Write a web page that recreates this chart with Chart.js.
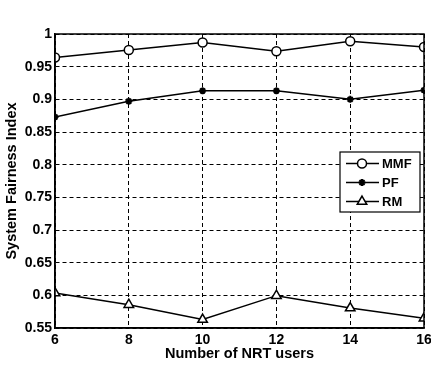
<!DOCTYPE html>
<html>
<head>
<meta charset="utf-8">
<script src="https://cdn.jsdelivr.net/npm/chart.js@4/dist/chart.umd.min.js"></script>
<style>
  html, body { margin: 0; padding: 0; background: #fff; }
  #wrap { width: 431px; height: 367px; }
</style>
</head>
<body>
<div id="wrap"><canvas id="fairChart" width="431" height="367"></canvas></div>
<script>
var users = [6, 8, 10, 12, 14, 16];
var mmf = [0.964, 0.9755, 0.987, 0.9735, 0.989, 0.980];
var pf = [0.873, 0.897, 0.913, 0.913, 0.900, 0.914];
var rm = [0.6035, 0.5857, 0.563, 0.5995, 0.5806, 0.565];
var yTicks = [0.55, 0.6, 0.65, 0.7, 0.75, 0.8, 0.85, 0.9, 0.95, 1];

function pts(vals) {
    return users.map(function (u, i) { return { x: u, y: vals[i] }; });
}

var fontFamily = '"Liberation Sans", Arial, Helvetica, sans-serif';

// box around the plot + legend drawn inside the plot area
var boxLegend = {
    id: 'boxLegend',
    afterDraw: function (chart) {
        var ctx = chart.ctx;
        var a = chart.chartArea;
        ctx.save();
        ctx.strokeStyle = '#000';
        ctx.lineWidth = 1.5;
        ctx.setLineDash([]);
        ctx.strokeRect(a.left, a.top, a.right - a.left, a.bottom - a.top);

        var w = 80, h = 60;
        var x0 = a.right - 4 - w;
        var y0 = (a.top + a.bottom) / 2 - h / 2 + 1;
        ctx.fillStyle = '#fff';
        ctx.fillRect(x0, y0, w, h);
        ctx.lineWidth = 1.2;
        ctx.strokeRect(x0, y0, w, h);

        ctx.font = 'bold 13px ' + fontFamily;
        ctx.textBaseline = 'middle';
        chart.data.datasets.forEach(function (ds, i) {
            var cy = y0 + 11.5 + i * 19;
            ctx.strokeStyle = '#000';
            ctx.lineWidth = 1.5;
            ctx.beginPath();
            ctx.moveTo(x0 + 6, cy);
            ctx.lineTo(x0 + 39, cy);
            ctx.stroke();
            ctx.fillStyle = ds.pointBackgroundColor;
            ctx.strokeStyle = ds.pointBorderColor;
            ctx.lineWidth = ds.pointBorderWidth;
            Chart.helpers.drawPoint(ctx, {
                pointStyle: ds.pointStyle,
                radius: ds.pointRadius,
                borderWidth: ds.pointBorderWidth
            }, x0 + 22, cy);
            ctx.fillStyle = '#000';
            ctx.fillText(ds.label, x0 + 42, cy + 1);
        });
        ctx.restore();
    }
};

var ctx = document.getElementById('fairChart').getContext('2d');
var fairChart = new Chart(ctx, {
    type: 'line',
    data: {
        datasets: [{
            label: 'MMF',
            data: pts(mmf),
            borderColor: '#000',
            borderWidth: 1.5,
            pointStyle: 'circle',
            pointRadius: 4.5,
            pointBorderWidth: 1.5,
            pointBackgroundColor: '#fff',
            pointBorderColor: '#000'
        }, {
            label: 'PF',
            data: pts(pf),
            borderColor: '#000',
            borderWidth: 1.5,
            pointStyle: 'star',
            pointRadius: 3.5,
            pointBorderWidth: 2,
            pointBackgroundColor: '#000',
            pointBorderColor: '#000'
        }, {
            label: 'RM',
            data: pts(rm),
            borderColor: '#000',
            borderWidth: 1.5,
            pointStyle: 'triangle',
            pointRadius: 5.5,
            pointBorderWidth: 1.5,
            pointBackgroundColor: '#fff',
            pointBorderColor: '#000'
        }]
    },
    options: {
        responsive: false,
        animation: false,
        events: [],
        layout: { padding: { top: 34, right: 5, left: 0, bottom: 0 } },
        plugins: {
            legend: { display: false },
            tooltip: { enabled: false }
        },
        scales: {
            x: {
                type: 'linear',
                min: 6,
                max: 16,
                afterFit: function (s) { s.height = 39; s.paddingLeft = 0; s.paddingRight = 0; },
                afterBuildTicks: function (s) {
                    s.ticks = users.map(function (u) { return { value: u }; });
                },
                ticks: {
                    color: '#000',
                    padding: 4,
                    maxRotation: 0,
                    font: { family: fontFamily, size: 14, weight: 'bold' }
                },
                grid: {
                    color: '#000',
                    lineWidth: 1,
                    drawTicks: false
                },
                border: { display: true, color: '#000', width: 1.5, dash: [4, 3] },
                title: {
                    display: true,
                    text: 'Number of NRT users',
                    color: '#000',
                    padding: { top: 0, bottom: 4 },
                    font: { family: fontFamily, size: 14.5, weight: 'bold' }
                }
            },
            y: {
                min: 0.55,
                max: 1,
                afterFit: function (s) { s.width = 55; s.paddingTop = 0; s.paddingBottom = 0; },
                afterBuildTicks: function (s) {
                    s.ticks = yTicks.map(function (v) { return { value: v }; });
                },
                ticks: {
                    color: '#000',
                    padding: 3,
                    font: { family: fontFamily, size: 14, weight: 'bold' },
                    callback: function (v) { return String(+v.toFixed(2)); }
                },
                grid: {
                    color: '#000',
                    lineWidth: 1,
                    drawTicks: false
                },
                border: { display: true, color: '#000', width: 1.5, dash: [4, 3] },
                title: {
                    display: true,
                    text: 'System Fairness Index',
                    color: '#000',
                    padding: { top: 3, bottom: 0 },
                    font: { family: fontFamily, size: 14.5, weight: 'bold' }
                }
            }
        }
    },
    plugins: [boxLegend]
});
</script>
</body>
</html>
